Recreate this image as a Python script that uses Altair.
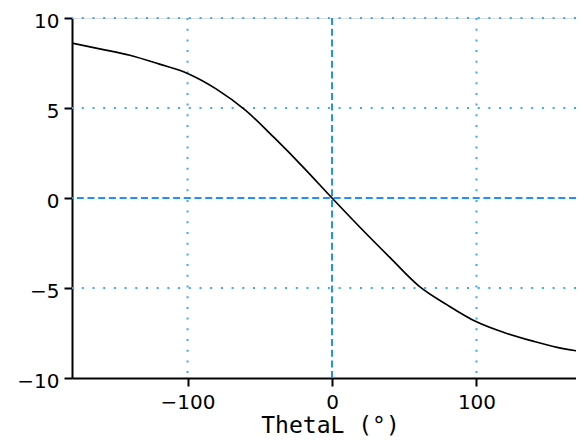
import altair as alt
import pandas as pd

# Curve
theta = [-180, -160, -140, -120, -100, -80, -60, -40, -20, 0,
         20, 40, 60, 80, 100, 120, 140, 160, 180]
value = [8.6, 8.27, 7.93, 7.45, 6.92, 6.05, 4.88, 3.35, 1.72, 0.0,
         -1.68, -3.3, -4.88, -5.95, -6.88, -7.5, -7.97, -8.37, -8.6]

x_ticks = [-100, 0, 100]
y_ticks = [-10, -5, 0, 5, 10]
x_grid_dotted = [-100, 100]
y_grid_dotted = [-5, 5, 10]
zero_lines = [0]
x_title = "ThetaL (°)"

curve = pd.DataFrame({"theta": theta, "value": value})

FONT = "DejaVu Sans"
# visible window of the x axis (right edge is cut off in the reference)
xscale = alt.Scale(domain=[-180, 168.9], nice=False, zero=False)
yscale = alt.Scale(domain=[-10, 10], nice=False, zero=False)

DOT = "#3aa8ff"
DASH = "#1e90ff"

vgrid = alt.Chart(pd.DataFrame({"g": x_grid_dotted})).mark_rule(
    color=DOT, strokeWidth=2, strokeDash=[2, 8.7], strokeCap="butt"
).encode(x=alt.X("g:Q", scale=xscale))

hgrid = alt.Chart(pd.DataFrame({"g": y_grid_dotted})).mark_rule(
    color=DOT, strokeWidth=2, strokeDash=[2, 8.7], strokeCap="butt"
).encode(y=alt.Y("g:Q", scale=yscale))

vzero = alt.Chart(pd.DataFrame({"g": zero_lines})).mark_rule(
    color=DASH, strokeWidth=2, strokeDash=[7, 3.7]
).encode(x=alt.X("g:Q", scale=xscale))

hzero = alt.Chart(pd.DataFrame({"g": zero_lines})).mark_rule(
    color=DASH, strokeWidth=2, strokeDash=[7, 3.7]
).encode(y=alt.Y("g:Q", scale=yscale))

line = alt.Chart(curve).mark_line(
    color="black", strokeWidth=1.7, clip=True, interpolate="monotone"
).encode(
    x=alt.X("theta:Q", scale=xscale,
            axis=alt.Axis(title=x_title, values=x_ticks, grid=False,
                          domainColor="black", domainWidth=2,
                          tickColor="black", tickWidth=2, tickSize=8,
                          labelFont=FONT, labelFontSize=20, labelColor="black",
                          labelPadding=6, titleFont="DejaVu Sans Mono",
                          titleFontSize=23, titleFontWeight="normal",
                          titleColor="black", titleX=258, titleY=54,
                          titleAlign="center", titleBaseline="alphabetic")),
    y=alt.Y("value:Q", scale=yscale,
            axis=alt.Axis(title=None, values=y_ticks, grid=False,
                          domainColor="black", domainWidth=2,
                          tickColor="black", tickWidth=2, tickSize=8,
                          labelFont=FONT, labelFontSize=20, labelColor="black",
                          labelPadding=5, labelOffset=3)),
)

chart = alt.layer(vgrid, hgrid, vzero, hzero, line).properties(
    width=504, height=360,
    autosize=alt.AutoSizeParams(type="none"),
    padding={"left": 64, "top": 10, "right": 0, "bottom": 61},
).configure_view(stroke=None).configure(background="white")

chart.save("out.html", embed_options={"renderer": "svg", "actions": False})
